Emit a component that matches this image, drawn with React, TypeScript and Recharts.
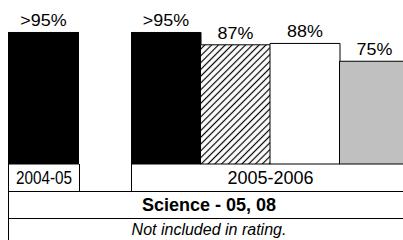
import React from 'react';
import { BarChart, Bar, XAxis, YAxis, Cell, LabelList } from 'recharts';

// ---- data ----
const priorCategories = ['2004-05'];
const priorValues = [96];
const priorLabels = ['>95%'];

const currentCategories = ['Level 1', 'Level 2', 'Level 3', 'Level 4'];
const currentValues = [96, 87, 88, 75];
const currentLabels = ['>95%', '87%', '88%', '75%'];

const periodLabels = ['2004-05', '2005-2006'];
const subjectTitle = 'Science - 05, 08';
const footnote = 'Not included in rating.';

// ---- styles ----
const currentFills = ['#000000', 'url(#hatch)', '#ffffff', '#c0c0c0'];
const FONT = "'Liberation Sans', Arial, Helvetica, sans-serif";

const priorData = priorCategories.map((c, i) => ({ name: c, value: priorValues[i], label: priorLabels[i] }));
const currentData = currentCategories.map((c, i) => ({ name: c, value: currentValues[i], label: currentLabels[i] }));

const ValueLabel = (props: any) => {
  const { x, y, width, value } = props;
  const cx = Number(x) + Number(width) / 2;
  const by = Number(y) - 6;
  return (
    <text
      transform={`translate(${cx},${by}) scale(1.12,1)`}
      textAnchor="middle"
      fontFamily={FONT}
      fontSize={16}
      fill="#000"
    >
      {value}
    </text>
  );
};

const line = '1px solid #000';

export default function App() {
  return (
    <div
      style={{
        position: 'absolute',
        left: 0,
        top: 0,
        width: 403,
        height: 240,
        overflow: 'hidden',
        background: '#fff',
        fontFamily: FONT,
        color: '#000',
      }}
    >
      <div style={{ position: 'absolute', left: 8, top: 0 }}>
        <BarChart
          width={71}
          height={165}
          data={priorData}
          margin={{ top: 27, right: 0, bottom: 1, left: 0 }}
          barCategoryGap={0}
          barGap={0}
          style={{ overflow: 'visible' }}
        >
          <XAxis dataKey="name" hide />
          <YAxis domain={[0, 100]} hide />
          <Bar dataKey="value" fill="#000" stroke="#000" strokeWidth={1} isAnimationActive={false}>
            <LabelList dataKey="label" content={ValueLabel} />
          </Bar>
        </BarChart>
      </div>
      <div style={{ position: 'absolute', left: 131, top: 0 }}>
        <BarChart
          width={278}
          height={165}
          data={currentData}
          margin={{ top: 27, right: 0, bottom: 1, left: 0 }}
          barCategoryGap={0}
          barGap={0}
          style={{ overflow: 'visible' }}
        >
          <defs>
            <pattern id="hatch" patternUnits="userSpaceOnUse" width="4.8" height="4.8" patternTransform="rotate(45)">
              <rect x="0" y="0" width="4.8" height="4.8" fill="#fff" />
              <line x1="2.4" y1="0" x2="2.4" y2="4.8" stroke="#000" strokeWidth="1.2" />
            </pattern>
          </defs>
          <XAxis dataKey="name" hide />
          <YAxis domain={[0, 100]} hide />
          <Bar dataKey="value" stroke="#000" strokeWidth={1} isAnimationActive={false}>
            {currentData.map((d, i) => (
              <Cell key={d.name} fill={currentFills[i]} />
            ))}
            <LabelList dataKey="label" content={ValueLabel} />
          </Bar>
        </BarChart>
      </div>

      {/* table rows */}
      <div
        style={{
          position: 'absolute',
          left: 8,
          top: 164,
          width: 72,
          height: 27,
          boxSizing: 'border-box',
          borderLeft: line,
          borderRight: line,
          textAlign: 'center',
          fontSize: 18,
          lineHeight: '27px',
        }}
      >
        <span style={{ display: 'inline-block', transform: 'translateY(1px) scaleX(0.85)' }}>{periodLabels[0]}</span>
      </div>
      <div
        style={{
          position: 'absolute',
          left: 131,
          top: 164,
          width: 278,
          height: 27,
          boxSizing: 'border-box',
          borderLeft: line,
          textAlign: 'center',
          fontSize: 18,
          lineHeight: '27px',
        }}
      >
        <span style={{ display: 'inline-block', transform: 'translateY(1px)' }}>{periodLabels[1]}</span>
      </div>
      <div
        style={{
          position: 'absolute',
          left: 8,
          top: 191,
          width: 401,
          height: 28,
          boxSizing: 'border-box',
          borderLeft: line,
          borderTop: line,
          borderBottom: line,
          textAlign: 'center',
          fontSize: 18,
          fontWeight: 'bold',
          lineHeight: '26px',
        }}
      >
        {subjectTitle}
      </div>
      <div
        style={{
          position: 'absolute',
          left: 8,
          top: 219,
          width: 401,
          height: 30,
          boxSizing: 'border-box',
          borderLeft: line,
          textAlign: 'center',
          fontSize: 16,
          fontStyle: 'italic',
          lineHeight: '22px',
        }}
      >
        {footnote}
      </div>
    </div>
  );
}
